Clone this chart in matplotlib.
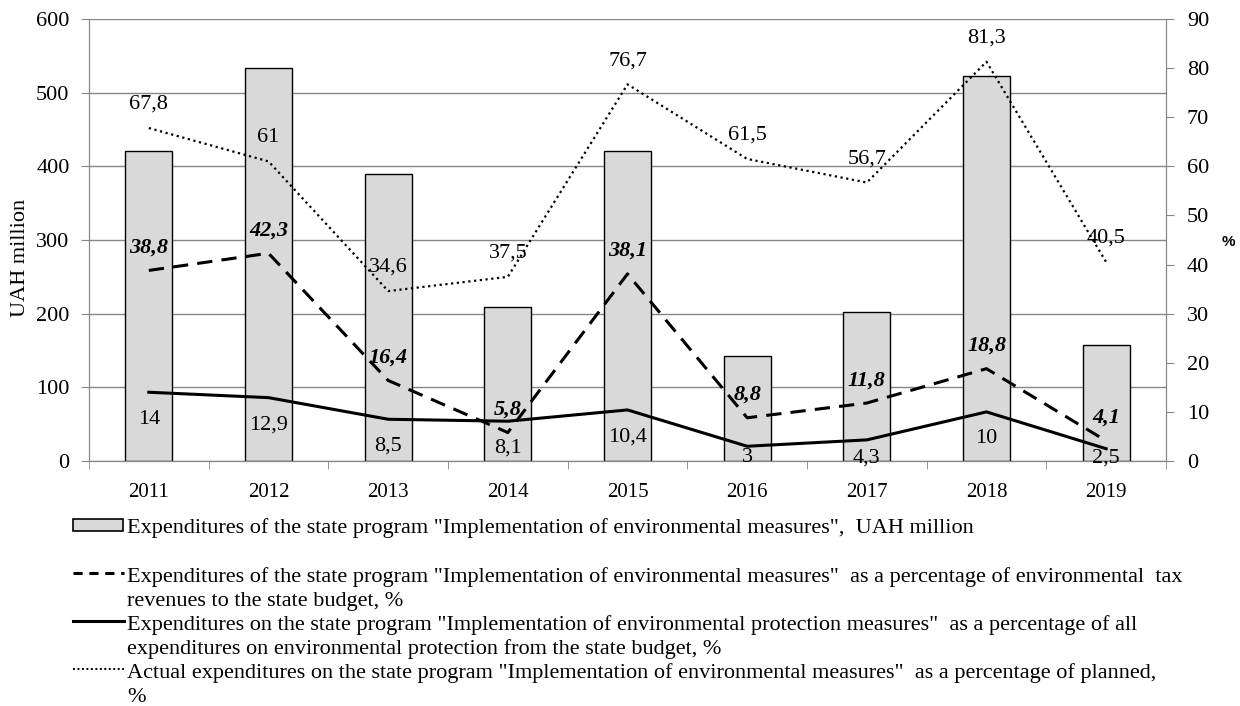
import matplotlib.pyplot as plt
import numpy as np
from matplotlib.lines import Line2D
from matplotlib.patches import Rectangle

plt.rcParams['font.family'] = ['Liberation Serif', 'DejaVu Serif']

years = ['2011', '2012', '2013', '2014', '2015', '2016', '2017', '2018', '2019']
spending = [421, 534, 389, 209, 421, 143, 202, 522, 158]
share_tax = [38.8, 42.3, 16.4, 5.8, 38.1, 8.8, 11.8, 18.8, 4.1]
share_env = [14, 12.9, 8.5, 8.1, 10.4, 3, 4.3, 10, 2.5]
share_plan = [67.8, 61, 34.6, 37.5, 76.7, 61.5, 56.7, 81.3, 40.5]

legend_lines = [
    ['Expenditures of the state program "Implementation of environmental measures",  UAH million'],
    ['Expenditures of the state program "Implementation of environmental measures"  as a percentage of environmental  tax',
     'revenues to the state budget, %'],
    ['Expenditures on the state program "Implementation of environmental protection measures"  as a percentage of all',
     'expenditures on environmental protection from the state budget, %'],
    ['Actual expenditures on the state program "Implementation of environmental measures"  as a percentage of planned,',
     '%'],
]

W, H = 1240, 706
fig = plt.figure(figsize=(W / 100, H / 100), dpi=100)
ax = fig.add_axes([89 / W, 1 - 461 / H, (1166 - 89) / W, (461 - 19) / H])
ax2 = ax.twinx()

x = np.arange(len(years))
grid_c = '#868686'

ax.bar(x, spending, width=0.39, color='#d9d9d9', edgecolor='black', linewidth=1, zorder=2)
ax.set_xlim(-0.5, len(years) - 0.5)
ax.set_ylim(0, 600)
ax.set_yticks(range(0, 601, 100))
ax.yaxis.grid(True, color=grid_c, linewidth=1)
ax.set_axisbelow(True)
ax.set_ylabel('UAH million', fontsize=16, va='center')
ax.yaxis.set_label_coords(-0.064, 0.46)

ax.set_xticks(x)
ax.set_xticklabels(years)
ax.set_xticks(np.arange(-0.5, len(years)), minor=True)
ax.tick_params(axis='x', which='major', length=0, pad=16, labelsize=15)
ax.tick_params(axis='x', which='minor', length=6, color=grid_c, direction='out')
ax.tick_params(axis='y', length=6, color=grid_c, labelsize=16, pad=8)

ax2.plot(x, share_tax, color='black', linewidth=2.2, linestyle=(0, (5, 3)), zorder=3)
ax2.plot(x, share_env, color='black', linewidth=2.2, linestyle='-', zorder=3)
ax2.plot(x, share_plan, color='black', linewidth=1.6, linestyle=(0, (1, 1.6)), zorder=3)
ax2.set_ylim(0, 90)
ax2.set_yticks(range(0, 91, 10))
ax2.tick_params(axis='y', length=6, color=grid_c, labelsize=16, pad=9)
ax2.set_ylabel('%', fontsize=11, fontweight='bold', family='Liberation Sans',
               rotation=0, va='center', ha='center')
ax2.yaxis.set_label_coords((1228 - 89) / 1077, (461 - 242) / 442)

for a in (ax, ax2):
    a.spines['top'].set_visible(False)
    for s in ('left', 'right', 'bottom'):
        a.spines[s].set_color(grid_c)


def fmt(v):
    return f'{v:g}'.replace('.', ',')


# pixels per percentage point on the right axis
ppu = (461 - 19) / 90

for xi, v in zip(x, share_plan):
    ax2.annotate(fmt(v), (xi, v), xytext=(0, 17), textcoords='offset points',
                 ha='center', va='center', fontsize=16)
for xi, v in zip(x, share_tax):
    ax2.annotate(fmt(v), (xi, v), xytext=(0, 16.5), textcoords='offset points',
                 ha='center', va='center', fontsize=16, fontweight='bold', fontstyle='italic')
for xi, v in zip(x, share_env):
    # labels below the line, kept inside the plot area
    y_lab = max(v - 27 / ppu, 3 / ppu)
    ax2.text(xi, y_lab, fmt(v), ha='center', va='center', fontsize=16)

# legend drawn by hand so the keys sit on the first text line
def fx(px):
    return px / W


def fy(py):
    return 1 - py / H


text_x = 127
rows = [528, 577, 625, 673]
step = 24.5
fig.patches.append(Rectangle((fx(73), fy(531)), fx(123) - fx(73), fy(519) - fy(531),
                             facecolor='#d9d9d9', edgecolor='black', linewidth=1.2,
                             transform=fig.transFigure, figure=fig))
styles = [None, (0, (3, 2.2)), '-', (0, (1, 1.3))]
widths = [None, 2.2, 2.2, 1.4]
for i, (y0, lines) in enumerate(zip(rows, legend_lines)):
    if styles[i] is not None:
        fig.add_artist(Line2D([fx(73), fx(124)], [fy(y0 - 4), fy(y0 - 4)], color='black',
                              linewidth=widths[i], linestyle=styles[i],
                              transform=fig.transFigure))
    for j, line in enumerate(lines):
        fig.text(fx(text_x), fy(y0 + j * step), line, ha='left', va='center', fontsize=16)

fig.savefig('out.png', dpi=100)
